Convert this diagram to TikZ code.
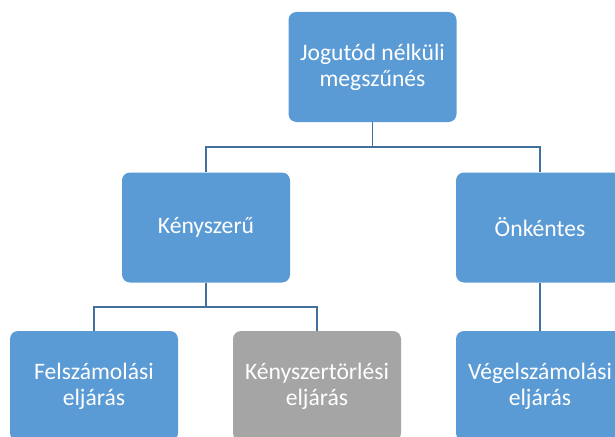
\documentclass[tikz,border=0pt]{standalone}
\usepackage{fontspec}
\setmainfont{Carlito}
\usepackage{xcolor}
\usetikzlibrary{positioning, calc}

\definecolor{boxblue}{HTML}{5B9BD5}
\definecolor{boxgray}{HTML}{A5A5A5}
\definecolor{linkblue}{HTML}{41719C}

\begin{document}
\begin{tikzpicture}[x=1pt, y=-1pt,
        orgbox/.style={rectangle, rounded corners=8pt, minimum width=168pt,
                minimum height=110pt, align=center, fill=boxblue, text=white,
                font=\fontsize{23.6}{26}\selectfont, inner sep=2pt},
        graybox/.style={orgbox, fill=boxgray},
        link/.style={-, draw=linkblue, line width=1.8pt}, ]

        \useasboundingbox (0,0) rectangle (615,436);
        \clip (0,0) rectangle (615,436);

        % === LEVEL 1 ===
        \node[orgbox] (root) at (372.5,67) {Jogutód nélküli\\megszűnés};

        % === LEVEL 2 ===
        \node[orgbox] (forced) at (206,227.5) {Kényszerű};
        \node[orgbox] (volunt) at (540,227.5) {Önkéntes};

        % === LEVEL 3 ===
        \node[orgbox] (liquid) at (94,386) {Felszámolási\\eljárás};
        \node[graybox] (strike) at (317,386) {Kényszertörlési\\eljárás};
        \node[orgbox] (windup) at (540,386) {Végelszámolási\\eljárás};

        % Connections
        \coordinate (j1) at ($(root.south)+(0,25)$);
        \coordinate (j2) at ($(forced.south)+(0,24)$);
        \draw[link] (root.south) -- (j1) -| (forced.north);
        \draw[link] (j1) -| (volunt.north);
        \draw[link] (forced.south) -- (j2) -| (liquid.north);
        \draw[link] (j2) -| (strike.north);
        \draw[link] (volunt.south) -- (windup.north);
\end{tikzpicture}
\end{document}
